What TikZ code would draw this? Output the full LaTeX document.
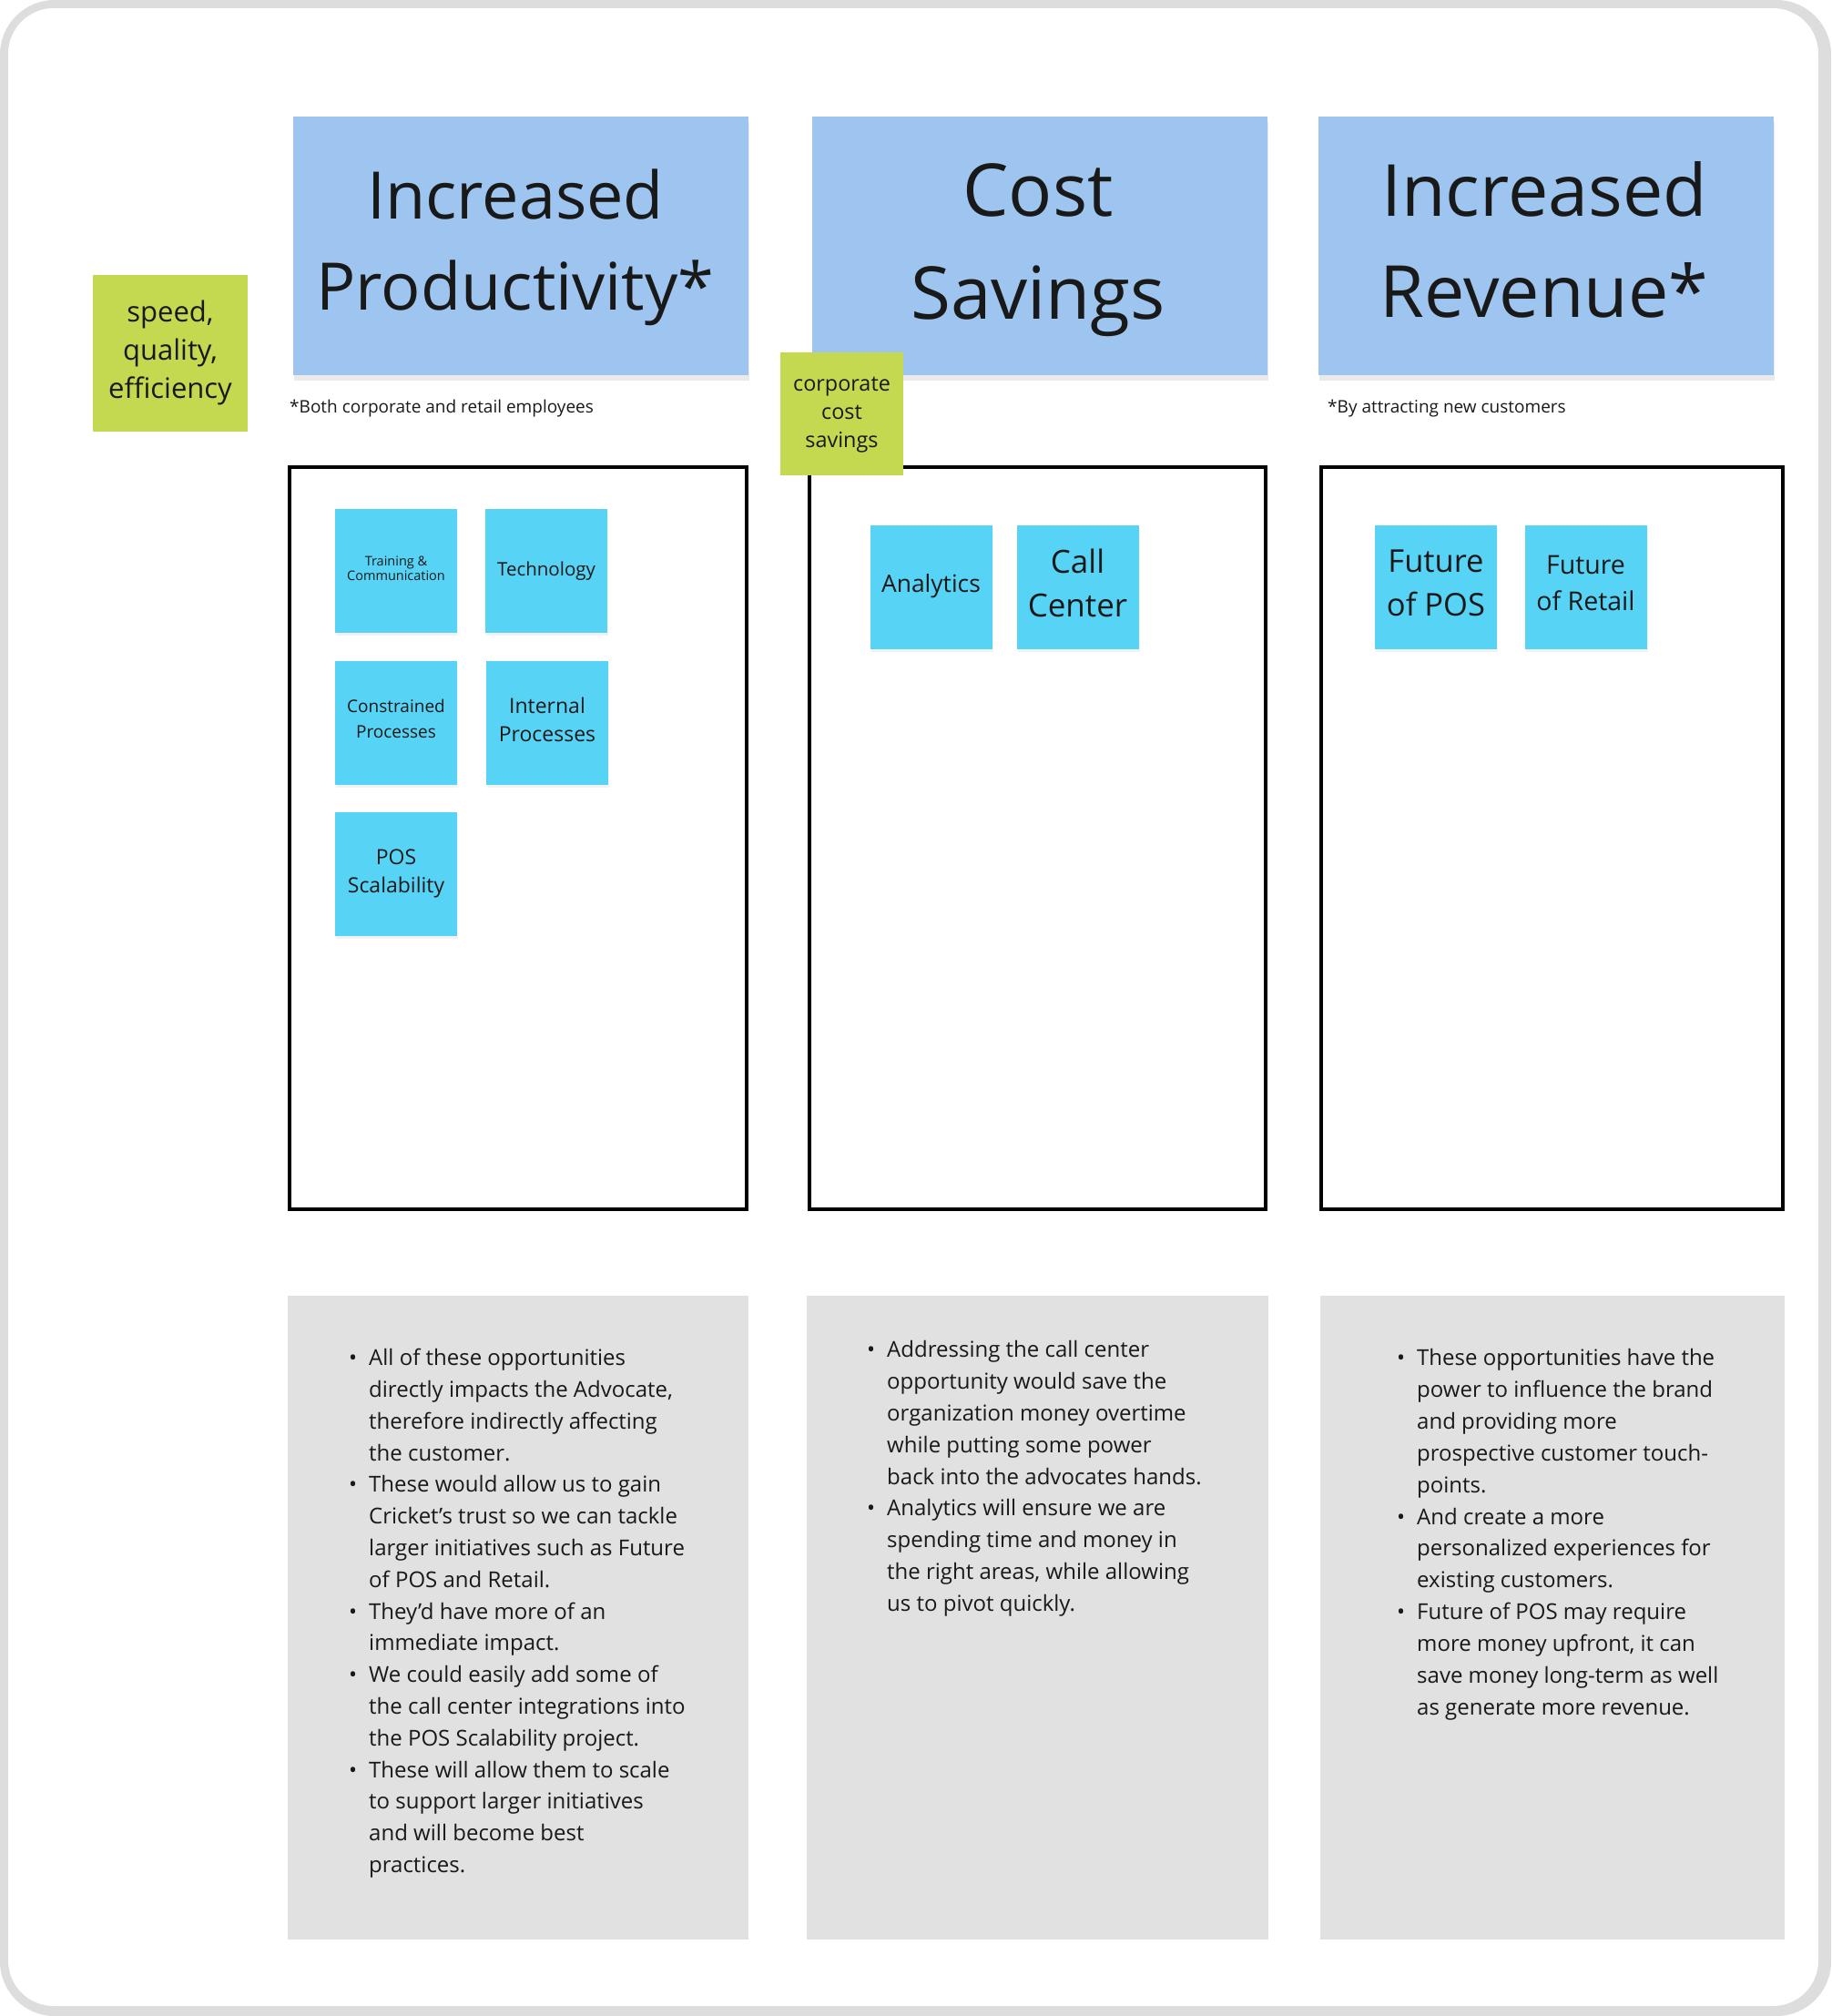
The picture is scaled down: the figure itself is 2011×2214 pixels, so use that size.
\documentclass[tikz,border=0pt]{standalone}
\usepackage{fontspec}
\setmainfont{Open Sans}
\usetikzlibrary{shadows}
\definecolor{hdrblue}{RGB}{158,197,240}
\definecolor{notecyan}{RGB}{87,211,245}
\definecolor{notegreen}{RGB}{197,217,80}
\definecolor{panelgray}{RGB}{225,225,225}
\definecolor{framegray}{RGB}{221,221,221}
\definecolor{ink}{RGB}{25,25,25}
\newcommand\zs{\rule[-0.8em]{0pt}{1.6em}}
\newcommand\zd[1]{\rule[-0.8em]{0pt}{\dimexpr1.6em+#1\relax}}
\newcommand\bu{\llap{\textbullet\hspace{13pt}}}
\newcommand\fs[2]{\fontsize{#1}{#2}\selectfont\lineskiplimit=-\maxdimen\relax}
\begin{document}
\begin{tikzpicture}[x=1pt,y=-1pt,
  every node/.style={inner sep=0pt, text=ink},
  hdr/.style={fill=hdrblue, minimum width=500pt, minimum height=284pt,
    drop shadow={opacity=0.16, shadow xshift=1pt, shadow yshift=-6pt}},
  note/.style={fill=notecyan, minimum width=134pt, minimum height=136pt, align=center,
    drop shadow={opacity=0.10, shadow xshift=1pt, shadow yshift=-3pt}},
  gnote/.style={fill=notegreen, align=center},
  board/.style={draw=black, line width=3.5pt, fill=white, minimum height=815pt},
  panel/.style={fill=panelgray, minimum height=707pt},
  title/.style={align=center},
  body/.style={align=left, anchor=west, font=\fs{24}{34.8}},
  foot/.style={anchor=base west, font=\fs{19}{22}}]
\useasboundingbox (0,0) rectangle (2011,2214);
% frame
\fill[white] (0,0) rectangle (2011,2214);
\fill[framegray, rounded corners=60pt] (0,0) rectangle (2011,2214);
\fill[white, rounded corners=50pt] (9,9) rectangle (1997,2203);
% headers
\node[hdr] (h1) at (572,270) {};
\node[hdr] (h2) at (1142,270) {};
\node[hdr] (h3) at (1698,270) {};
\node[title, font=\fs{72}{100}] (t1) at (566,290) {\zs Increased\\Productivity*\zs};
\node[title, font=\fs{80}{113}] (t2) at (1140,293.5) {\zs Cost\\Savings\zs};
\node[title, font=\fs{79}{111}] (t3) at (1696,292.5) {\zs Increased\\Revenue*\zs};
% footnotes
\node[foot] (f1) at (318,453) {*Both corporate and retail employees};
\node[foot] (f3) at (1458,453) {*By attracting new customers};
% boards
\node[board, minimum width=502pt] (b1) at (569,920.5) {};
\node[board, minimum width=501pt] (b2) at (1139.5,920.5) {};
\node[board, minimum width=507pt] (b3) at (1704.5,920.5) {};
% sticky notes
\node[note, font=\fs{14.5}{16}] (n1) at (435,627) {\zd{4pt}Training \&\\Communication\zs};
\node[note, font=\fs{20.5}{24}] (n2) at (600,627) {\zd{11pt}Technology\zs};
\node[note, font=\fs{19}{28}] (n3) at (435,793.5) {\zd{6pt}Constrained\\Processes\zs};
\node[note, font=\fs{23}{31}] (n4) at (601,793.5) {\zd{11pt}Internal\\Processes\zs};
\node[note, font=\fs{23}{31}] (n5) at (435,959.5) {\zd{11pt}POS\\Scalability\zs};
\node[note, font=\fs{26.4}{30}] (n6) at (1022.5,645) {\zd{11pt}Analytics\zs};
\node[note, font=\fs{35}{48}] (n7) at (1183.5,645) {\zd{17pt}Call\\Center\zs};
\node[note, font=\fs{34.5}{48}] (n8) at (1577,645) {\zd{14pt}Future\\of POS\zs};
\node[note, font=\fs{28.5}{40}] (n9) at (1741.5,645) {\zd{10pt}Future\\of Retail\zs};
% green notes
\node[gnote, minimum width=170pt, minimum height=172pt, font=\fs{31}{42}] (g1) at (187,388) {\zd{14pt}speed,\\quality,\\efficiency\zs};
\node[gnote, minimum width=135pt, minimum height=135pt, font=\fs{23.4}{31}] (g2) at (924.5,454.5) {\zd{12pt}corporate\\cost\\savings\zs};
% panels
\node[panel, minimum width=506pt] (p1) at (569,1776.5) {};
\node[panel, minimum width=507pt] (p2) at (1139.5,1776.5) {};
\node[panel, minimum width=510pt] (p3) at (1705,1776.5) {};
\node[body] (x1) at (405,1778) {\zs\bu All of these opportunities\\
directly impacts the Advocate,\\
therefore indirectly affecting\\
the customer.\\
\bu These would allow us to gain\\
Cricket’s trust so we can tackle\\
larger initiatives such as Future\\
of POS and Retail.\\
\bu They’d have more of an\\
immediate impact.\\
\bu We could easily add some of\\
the call center integrations into\\
the POS Scalability project.\\
\bu These will allow them to scale\\
to support larger initiatives\\
and will become best\\
practices.\zs};
\node[body] (x2) at (974,1630) {\zs\bu Addressing the call center\\
opportunity would save the\\
organization money overtime\\
while putting some power\\
back into the advocates hands.\\
\bu Analytics will ensure we are\\
spending time and money in\\
the right areas, while allowing\\
us to pivot quickly.\zs};
\node[body, font=\fs{24}{34.9}] (x3) at (1556,1691.5) {\zs\bu These opportunities have the\\
power to influence the brand\\
and providing more\\
prospective customer touch-\\
points.\\
\bu And create a more\\
personalized experiences for\\
existing customers.\\
\bu Future of POS may require\\
more money upfront, it can\\
save money long-term as well\\
as generate more revenue.\zs};
\end{tikzpicture}
\end{document}
